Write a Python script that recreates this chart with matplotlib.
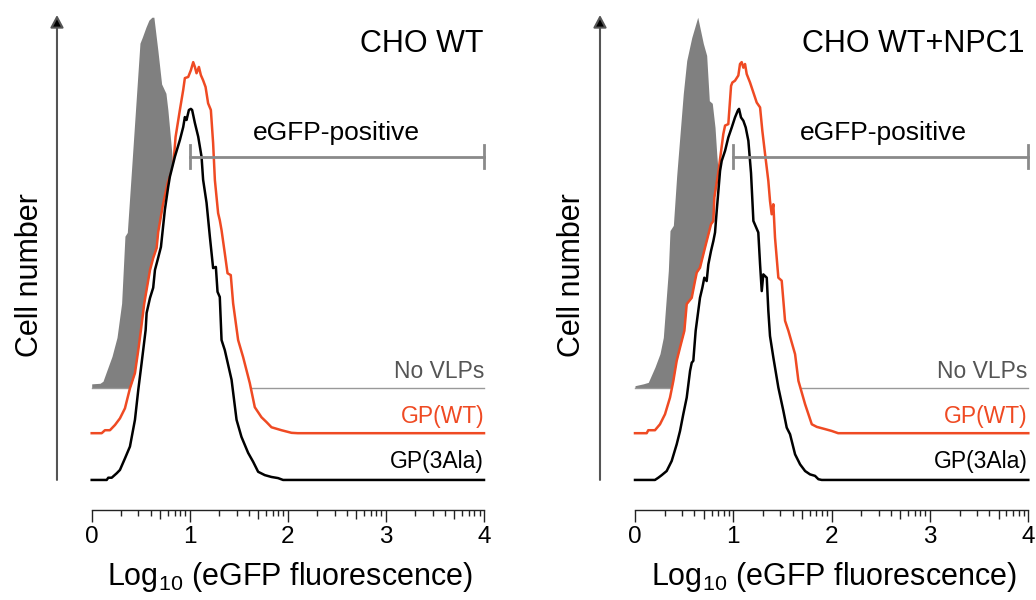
import matplotlib
matplotlib.use('Agg')
import matplotlib.pyplot as plt
import numpy as np
from matplotlib.transforms import blended_transform_factory

plt.rcParams['font.family'] = ['Liberation Sans', 'DejaVu Sans']
plt.rcParams['mathtext.fontset'] = 'custom'
plt.rcParams['mathtext.rm'] = 'Liberation Sans'
plt.rcParams['mathtext.it'] = 'Liberation Sans:italic'

# ---------------- data (log10 fluorescence, % of mode) ----------------
titles = ['CHO WT', 'CHO WT+NPC1']
series_labels = ['No VLPs', 'GP(WT)', 'GP(3Ala)']
gate_label = 'eGFP-positive'
gate_range = [1.0, 4.0]
tick_values = [0, 1, 2, 3, 4]

# CHO WT
wt_novlp_x = [0.0, 0.085, 0.115, 0.156, 0.207, 0.258, 0.305, 0.339, 0.363, 0.407, 0.492, 0.516, 0.553, 0.583,
              0.614, 0.634, 0.675, 0.713, 0.757, 0.777, 0.815, 0.88, 0.95, 1.05, 1.15]
wt_novlp_y = [1.2, 1.35, 1.9, 4.9, 8.6, 13.7, 22.9, 41, 42, 59.3, 93, 94.6, 97.3, 99.2,
              100, 100, 91, 82, 79.5, 75, 64, 42, 24, 5, 0]
wt_gpwt_x = [0.0, 0.102, 0.135, 0.186, 0.237, 0.288, 0.339, 0.390, 0.441, 0.475, 0.502, 0.536, 0.594, 0.627,
             0.662, 0.678, 0.726, 0.777, 0.831, 0.855, 0.899, 0.933, 0.950, 0.984, 1.011, 1.035, 1.052, 1.069,
             1.093, 1.113, 1.136, 1.161, 1.187, 1.215, 1.238, 1.256, 1.289, 1.306, 1.324, 1.357, 1.385, 1.418,
             1.442, 1.493, 1.544, 1.612, 1.663, 1.731, 1.782, 1.833, 1.935, 2.037, 2.10, 4.0]
wt_gpwt_y = [0, 0, 0.8, 0.8, 2.2, 4.0, 6.7, 12.1, 16.2, 22.4, 27.8, 35, 43.9, 47.2,
             49.9, 54.2, 61.5, 67.7, 71.7, 79.8, 87.1, 92.5, 95.7, 96, 97.8, 100, 98.7, 97,
             98.7, 96.5, 95.1, 93.3, 88.9, 87.1, 78.2, 68.2, 59.3, 57.4, 54.7, 48.5, 43.1, 42.6,
             35, 25.1, 20.5, 13.5, 7.0, 4.3, 3.0, 1.6, 0.8, 0.1, 0, 0]
wt_3ala_x = [0.0, 0.153, 0.169, 0.204, 0.255, 0.288, 0.339, 0.390, 0.441, 0.475, 0.509, 0.550, 0.560, 0.594,
             0.627, 0.645, 0.672, 0.706, 0.746, 0.780, 0.797, 0.848, 0.899, 0.933, 0.950, 0.967, 0.991, 1.011,
             1.024, 1.052, 1.086, 1.120, 1.136, 1.171, 1.205, 1.238, 1.266, 1.283, 1.306, 1.324, 1.357, 1.426,
             1.477, 1.527, 1.595, 1.646, 1.697, 1.765, 1.833, 1.900, 1.951, 4.0]
wt_3ala_y = [0, 0, 0.6, 0.6, 1.8, 2.7, 5.8, 9.0, 16.2, 24.3, 31.5, 40.4, 45, 49,
             51.8, 56.6, 59.3, 62.8, 72.8, 79, 81.7, 87.1, 91.6, 95.1, 97.8, 97, 99.7, 100,
             99.7, 96.2, 92.5, 87.1, 80.9, 74.7, 65.5, 57.1, 57.4, 50.7, 49.3, 37.7, 35, 27,
             16.2, 11.6, 7.3, 4.9, 2.2, 1.3, 0.8, 0.5, 0, 0]

# CHO WT+NPC1
npc_novlp_x = [0.0, 0.084, 0.135, 0.203, 0.254, 0.288, 0.339, 0.356, 0.390, 0.424, 0.491, 0.526, 0.577, 0.638,
               0.695, 0.729, 0.756, 0.786, 0.814, 0.831, 0.847, 0.916, 1.017, 1.12]
npc_novlp_y = [0.7, 1.2, 1.6, 5.7, 9.3, 13.7, 31.7, 42.5, 43.9, 57.3, 79.4, 88.3, 94.5, 100,
               92.9, 89.7, 77.5, 76.8, 70.3, 63.3, 57.9, 37, 13, 0]
npc_gpwt_x = [0.0, 0.119, 0.135, 0.203, 0.254, 0.305, 0.356, 0.390, 0.424, 0.458, 0.502, 0.526, 0.577, 0.610,
              0.628, 0.661, 0.712, 0.773, 0.797, 0.807, 0.847, 0.898, 0.916, 0.949, 0.977, 0.990, 1.017, 1.051,
              1.068, 1.085, 1.102, 1.119, 1.136, 1.170, 1.204, 1.238, 1.272, 1.295, 1.323, 1.356, 1.373, 1.390,
              1.407, 1.424, 1.458, 1.492, 1.526, 1.560, 1.628, 1.662, 1.730, 1.798, 1.849, 1.933, 2.001, 2.066, 4.0]
npc_gpwt_y = [0, 0, 0.8, 0.8, 2.4, 5.1, 9.6, 14.1, 19.5, 23.1, 27.6, 34.8, 36.5, 41.0,
              43.3, 44.6, 50.0, 56.3, 57.2, 63.5, 70.2, 80.6, 82.9, 83.3, 93.6, 94.5, 95, 96.4,
              99.5, 100, 98.5, 99.5, 96.8, 94.5, 91.8, 89.1, 87.8, 81.5, 75.2, 68.0, 62.6, 59.0,
              61.7, 52.7, 41.9, 41.1, 30.3, 27.6, 21.3, 14.1, 7.8, 2.4, 1.7, 1.1, 0.6, 0, 0]
npc_3ala_x = [0.0, 0.203, 0.237, 0.272, 0.322, 0.373, 0.424, 0.458, 0.491, 0.526, 0.560, 0.577, 0.593, 0.617,
              0.661, 0.685, 0.705, 0.729, 0.746, 0.773, 0.797, 0.814, 0.831, 0.865, 0.882, 0.916, 0.949, 0.984,
              1.017, 1.045, 1.058, 1.078, 1.102, 1.126, 1.153, 1.180, 1.204, 1.254, 1.272, 1.289, 1.305, 1.340,
              1.356, 1.373, 1.407, 1.458, 1.509, 1.543, 1.577, 1.628, 1.679, 1.730, 1.780, 1.831, 1.865, 1.899, 4.0]
npc_3ala_y = [0, 0, 0.6, 1.3, 2.4, 5.1, 9.6, 13.2, 17.7, 22.2, 29.4, 31.6, 32.1, 40.2,
              49.1, 51.8, 54.5, 53.6, 58.1, 61.7, 64.4, 66.7, 72.5, 83.3, 86.0, 88.7, 92.3, 95.0,
              97.7, 99.5, 100, 97.7, 96.8, 95.0, 91.4, 82.7, 69.8, 66.7, 58.1, 50.9, 55.4, 54.5,
              45.6, 38.8, 33.0, 24.9, 18.6, 14.1, 12.3, 6.9, 4.2, 2.4, 1.5, 1.1, 0.2, 0, 0]

# ---------------- style ----------------
ORANGE = '#EF4A23'
GREY_FILL = '#808080'
GREY_LINE = '#999999'
GATE = '#8A8A8A'
OFF_GREY, OFF_ORANGE, OFF_BLACK = 24.7, 12.6, 0.0
YLIM = (-8.1, 125.3)

fig = plt.figure(figsize=(10.36, 6.0), dpi=100)
W, H = 1036.0, 600.0
axL = fig.add_axes([91.7 / W, 90 / H, 392.3 / W, 495 / H])
axR = fig.add_axes([635 / W, 90 / H, 393.3 / W, 495 / H])


def panel(ax, title, title_x, gx, gy, ox, oy, bx, by, arrow_x, ylab_x, gate_tx, lab_x):
    ax.set_xlim(0, 4)
    ax.set_ylim(*YLIM)
    for s in ['left', 'right', 'top']:
        ax.spines[s].set_visible(False)
    ax.spines['bottom'].set_bounds(0, 4)
    ax.spines['bottom'].set_linewidth(1.0)
    ax.spines['bottom'].set_color('#222222')
    ax.set_yticks([])

    gx = np.asarray(gx); gy = np.asarray(gy)
    ox = np.asarray(ox); oy = np.asarray(oy)
    bx = np.asarray(bx); by = np.asarray(by)

    # No VLPs: grey filled histogram + baseline
    ax.fill_between(gx, OFF_GREY, OFF_GREY + gy, color=GREY_FILL, lw=0, zorder=1)
    ax.plot([0, 4], [OFF_GREY, OFF_GREY], color=GREY_LINE, lw=1.0, zorder=1.5, clip_on=False)
    # GP(WT)
    ax.fill_between(ox, OFF_ORANGE, OFF_ORANGE + oy, color='white', lw=0, zorder=2)
    ax.plot(ox, OFF_ORANGE + oy, color=ORANGE, lw=1.8, zorder=2.5, clip_on=False)
    # GP(3Ala)
    ax.fill_between(bx, OFF_BLACK, OFF_BLACK + by, color='white', lw=0, zorder=3)
    ax.plot(bx, OFF_BLACK + by, color='black', lw=1.8, zorder=3.5, clip_on=False)

    # gate
    gy0 = 87.1
    ax.plot(gate_range, [gy0, gy0], color=GATE, lw=2.0, zorder=5, clip_on=False)
    for gxv in gate_range:
        ax.plot([gxv, gxv], [gy0 - 3.1, gy0 + 3.1], color=GATE, lw=2.0, zorder=5, clip_on=False)
    ax.text(gate_tx, 93.5, gate_label, ha='center', va='center', fontsize=19, color='black')

    # title
    ax.text(title_x, 117.5, title, ha='right', va='center', fontsize=22, color='black')

    # series labels
    ax.text(lab_x, 29.2, series_labels[0], ha='right', va='center', fontsize=16.5, color='#555555')
    ax.text(lab_x, 17.1, series_labels[1], ha='right', va='center', fontsize=16.5, color=ORANGE)
    ax.text(lab_x, 4.9, series_labels[2], ha='right', va='center', fontsize=16.5, color='black')

    # ticks
    ax.set_xticks(tick_values)
    ax.set_xticklabels([str(t) for t in tick_values])
    minor = [d + np.log10(k) for d in range(4) for k in [2, 3, 4, 6, 7, 8, 9]]
    ax.set_xticks(minor, minor=True)
    ax.tick_params(axis='x', which='major', length=8.6, width=1.0, direction='out',
                   labelsize=17.5, pad=3, color='#222222')
    ax.tick_params(axis='x', which='minor', length=4.3, width=1.0, direction='out', color='#222222')
    sec = ax.secondary_xaxis('bottom')
    sec.set_xticks([d + np.log10(5) for d in range(4)])
    sec.tick_params(axis='x', length=6.5, width=1.0, direction='out', labelbottom=False, color='#222222')
    sec.spines['bottom'].set_visible(False)

    # x label
    ax.text(0.505, -0.135, r'Log$_\mathregular{10}$ (eGFP fluorescence)', transform=ax.transAxes,
            ha='center', va='center', fontsize=22)

    # y arrow
    tr = blended_transform_factory(ax.transAxes, ax.transData)
    ax.annotate('', xy=(arrow_x, YLIM[1]), xytext=(arrow_x, 0), xycoords=tr, textcoords=tr,
                arrowprops=dict(arrowstyle='-|>,head_length=0.75,head_width=0.4', fc='black',
                                ec='#555555', lw=1.5, shrinkA=0, shrinkB=0),
                annotation_clip=False)
    ax.text(ylab_x, 0.475, 'Cell number', transform=ax.transAxes, rotation=90,
            ha='center', va='center', fontsize=22)


panel(axL, titles[0], 4.0, wt_novlp_x, wt_novlp_y, wt_gpwt_x, wt_gpwt_y, wt_3ala_x, wt_3ala_y,
      arrow_x=-0.0885, ylab_x=-0.157, gate_tx=2.495, lab_x=4.0)
panel(axR, titles[1], 3.96, npc_novlp_x, npc_novlp_y, npc_gpwt_x, npc_gpwt_y, npc_3ala_x, npc_3ala_y,
      arrow_x=-0.089, ylab_x=-0.16, gate_tx=2.53, lab_x=3.99)

fig.savefig('out.png', dpi=100)
